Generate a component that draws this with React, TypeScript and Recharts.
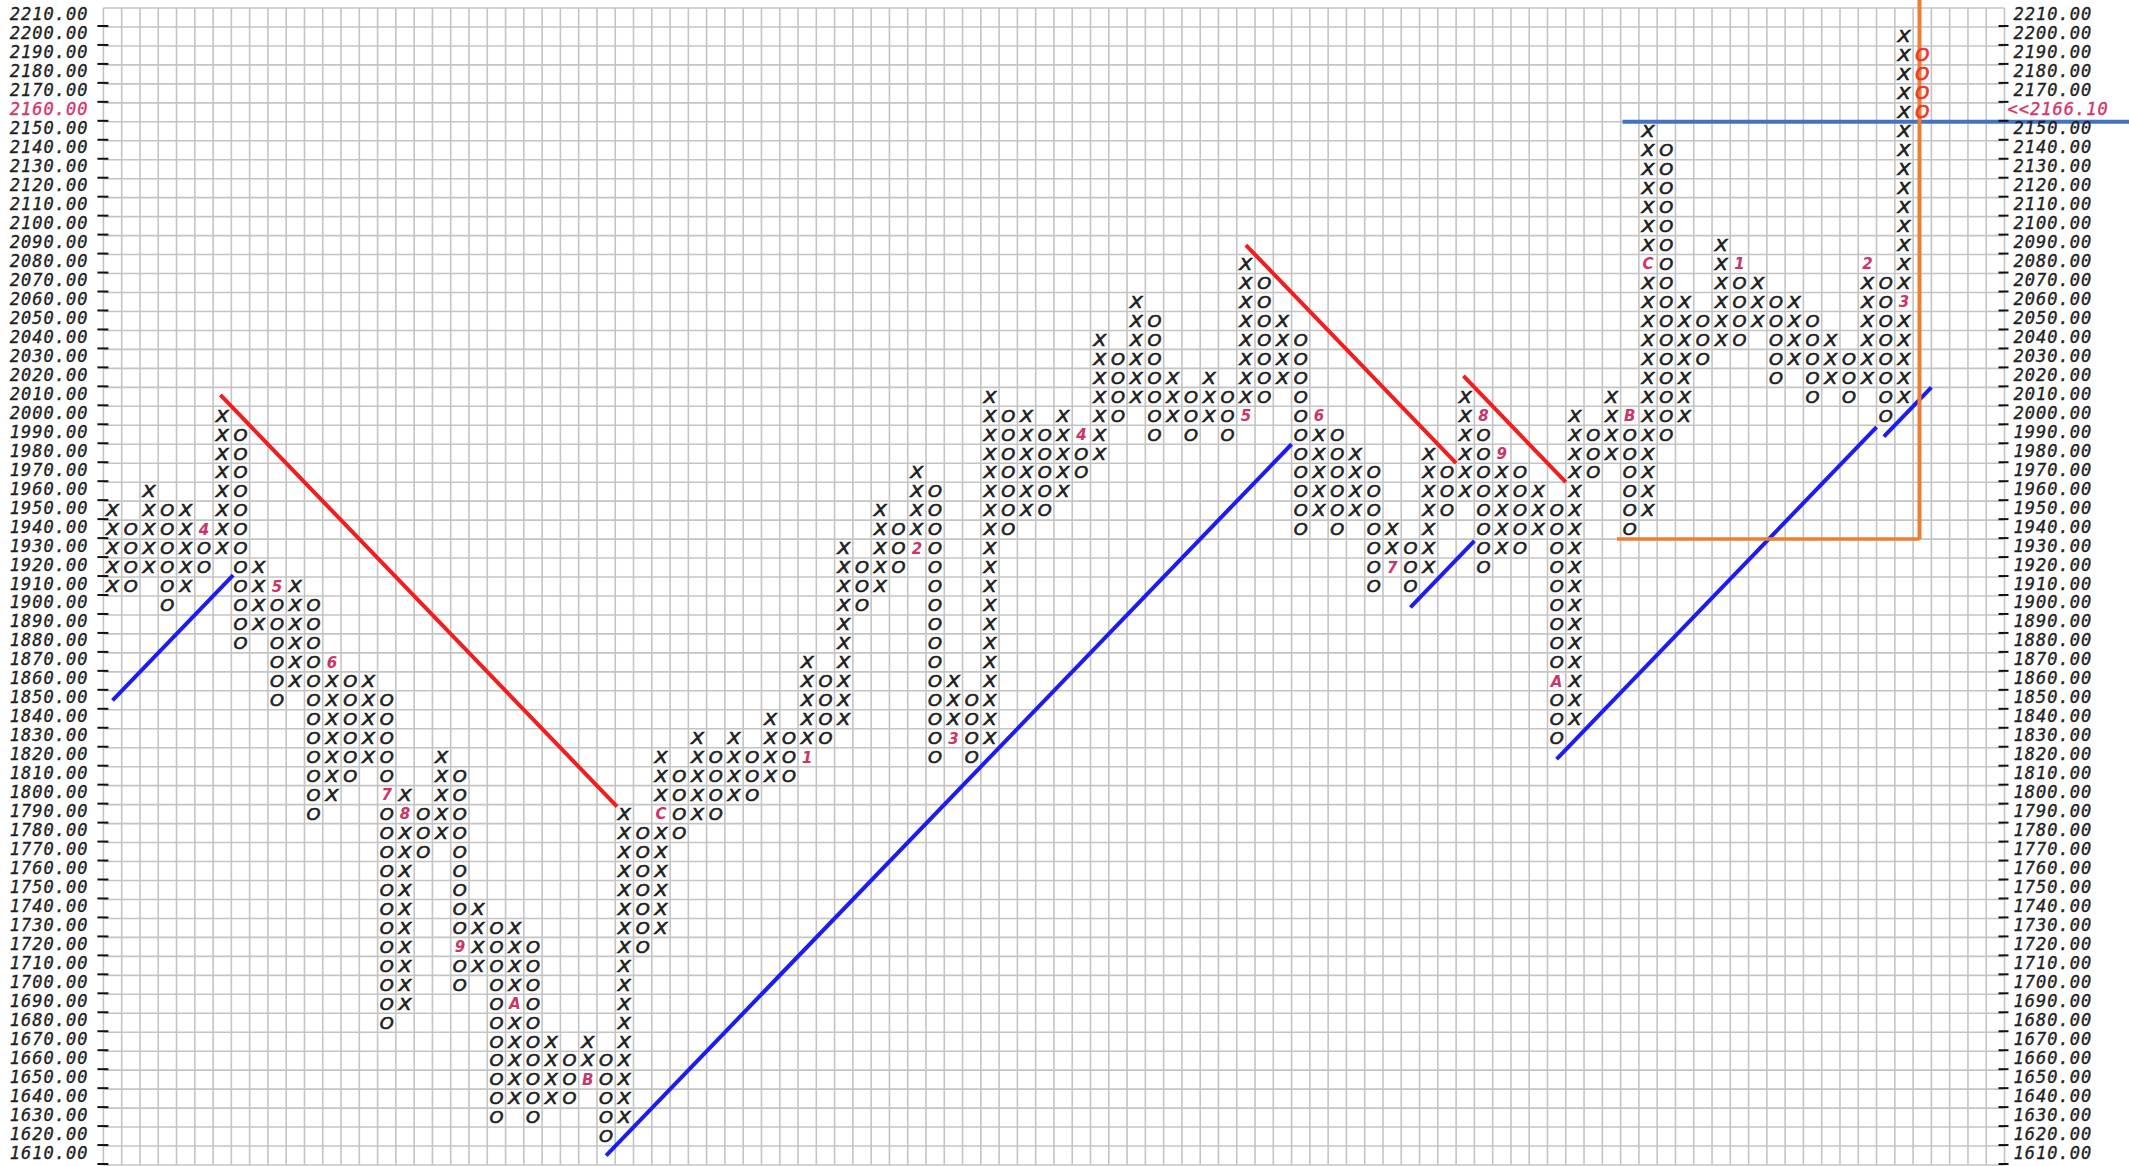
import React from "react";
import { ScatterChart, Scatter, XAxis, YAxis, CartesianGrid, ReferenceLine } from "recharts";

// point & figure columns, box size 10: [kind, lowest box, highest box]
const columns: [string, number, number][] = [
  ["X", 1910, 1950], ["O", 1910, 1940], ["X", 1920, 1960], ["O", 1900, 1950], ["X", 1910, 1950],
  ["O", 1920, 1940], ["X", 1930, 2000], ["O", 1880, 1990], ["X", 1890, 1920], ["O", 1850, 1910],
  ["X", 1860, 1910], ["O", 1790, 1900], ["X", 1800, 1870], ["O", 1810, 1860], ["X", 1820, 1860],
  ["O", 1680, 1850], ["X", 1690, 1800], ["O", 1770, 1790], ["X", 1780, 1820], ["O", 1700, 1810],
  ["X", 1710, 1740], ["O", 1630, 1730], ["X", 1640, 1730], ["O", 1630, 1720], ["X", 1640, 1670],
  ["O", 1640, 1660], ["X", 1650, 1670], ["O", 1620, 1660], ["X", 1630, 1790], ["O", 1720, 1780],
  ["X", 1730, 1820], ["O", 1780, 1810], ["X", 1790, 1830], ["O", 1790, 1820], ["X", 1800, 1830],
  ["O", 1800, 1820], ["X", 1810, 1840], ["O", 1810, 1830], ["X", 1820, 1870], ["O", 1830, 1860],
  ["X", 1840, 1930], ["O", 1900, 1920], ["X", 1910, 1950], ["O", 1920, 1940], ["X", 1930, 1970],
  ["O", 1820, 1960], ["X", 1830, 1860], ["O", 1820, 1850], ["X", 1830, 2010], ["O", 1940, 2000],
  ["X", 1950, 2000], ["O", 1950, 1990], ["X", 1960, 2000], ["O", 1970, 1990], ["X", 1980, 2040],
  ["O", 2000, 2030], ["X", 2010, 2060], ["O", 1990, 2050], ["X", 2000, 2020], ["O", 1990, 2010],
  ["X", 2000, 2020], ["O", 1990, 2010], ["X", 2000, 2080], ["O", 2010, 2070], ["X", 2020, 2050],
  ["O", 1940, 2040], ["X", 1950, 2000], ["O", 1940, 1990], ["X", 1950, 1980], ["O", 1910, 1970],
  ["X", 1920, 1940], ["O", 1910, 1930], ["X", 1920, 1980], ["O", 1950, 1970], ["X", 1960, 2010],
  ["O", 1920, 2000], ["X", 1930, 1980], ["O", 1930, 1970], ["X", 1940, 1960], ["O", 1830, 1950],
  ["X", 1840, 2000], ["O", 1970, 1990], ["X", 1980, 2010], ["O", 1940, 2000], ["X", 1950, 2150],
  ["O", 1990, 2140], ["X", 2000, 2060], ["O", 2030, 2050], ["X", 2040, 2090], ["O", 2040, 2080],
  ["X", 2050, 2070], ["O", 2020, 2060], ["X", 2030, 2060], ["O", 2010, 2050], ["X", 2020, 2040],
  ["O", 2010, 2030], ["X", 2020, 2080], ["O", 2000, 2070], ["X", 2010, 2200],
];

// month codes written in place of a box: [column, price, code]
const monthMarks: [number, number, string][] = [
  [5, 1940, "4"], [9, 1910, "5"], [12, 1870, "6"], [15, 1800, "7"], [16, 1790, "8"],
  [19, 1720, "9"], [22, 1690, "A"], [26, 1650, "B"], [30, 1790, "C"], [38, 1820, "1"],
  [44, 1930, "2"], [46, 1830, "3"], [53, 1990, "4"], [62, 2000, "5"], [66, 2000, "6"],
  [70, 1920, "7"], [75, 2000, "8"], [76, 1980, "9"], [79, 1860, "A"], [83, 2000, "B"],
  [84, 2080, "C"], [89, 2080, "1"], [96, 2080, "2"], [98, 2060, "3"],
];

// reversal column still forming (red)
const pendingColumn = 99;
const pendingBoxes = [2190, 2180, 2170, 2160];

const priceTicks = [
  2210, 2200, 2190, 2180, 2170, 2160, 2150, 2140, 2130, 2120, 2110, 2100, 2090, 2080, 2070, 2060,
  2050, 2040, 2030, 2020, 2010, 2000, 1990, 1980, 1970, 1960, 1950, 1940, 1930, 1920, 1910, 1900,
  1890, 1880, 1870, 1860, 1850, 1840, 1830, 1820, 1810, 1800, 1790, 1780, 1770, 1760, 1750, 1740,
  1730, 1720, 1710, 1700, 1690, 1680, 1670, 1660, 1650, 1640, 1630, 1620, 1610,
];
const highlightTick = 2160;
const lastPrice = "2166.10";

// 45 degree trend lines: [[col, price], [col, price]]
const supportLines: [number, number][][] = [
  [[0, 1850], [6.6, 1916]],
  [[27, 1610], [64.5, 1985]],
  [[71, 1899], [74.5, 1934]],
  [[79, 1819], [96.5, 1994]],
  [[96.9, 1989], [99.5, 2015]],
];
const resistanceLines: [number, number][][] = [
  [[5.9, 2011], [27.6, 1794]],
  [[62, 2090], [73.5, 1975]],
  [[73.9, 2021], [79.5, 1965]],
];
const breakout = { from: 82.6, to: 112, price: 2155 };
const target = { from: 82.3, col: 98.85, price: 1935, top: 2221 };

const colCount = 104;
const boxSize = 10;
const priceMin = 1605;
const priceMax = 2215;

const markKey = new Map(monthMarks.map(([c, p, l]) => [c + ":" + p, l]));
const xBoxes: { col: number; price: number }[] = [];
const oBoxes: { col: number; price: number }[] = [];
columns.forEach(([kind, low, high], col) => {
  for (let p = low; p <= high; p += boxSize) {
    if (markKey.has(col + ":" + p)) continue;
    (kind === "X" ? xBoxes : oBoxes).push({ col, price: p });
  }
});
const markPoints = monthMarks.map(([col, price, label]) => ({ col, price, label }));
const pendingPoints = pendingBoxes.map((price) => ({ col: pendingColumn, price }));

const colEdges: number[] = [];
for (let c = 0; c <= colCount; c++) colEdges.push(c - 0.5);
const rowEdges: number[] = [];
for (let p = priceMin; p <= priceMax; p += boxSize) rowEdges.push(p);

// axis scale may be a plain d3 function or a wrapper with .map()
function scaleOf(axis: any, v: number, lo: number, hi: number, start: number, end: number) {
  const s = axis && axis.scale;
  if (typeof s === "function") return s(v);
  if (s && typeof s.map === "function") return s.map(v);
  return start + ((v - lo) / (hi - lo)) * (end - start);
}

const labelFont = {
  fontFamily: "DejaVu Sans Mono",
  fontStyle: "italic",
  fontSize: 17,
  letterSpacing: 1,
  strokeWidth: 0.35,
};

function LeftTick(props: any) {
  const { x, y, payload } = props;
  const v = payload.value;
  const c = v === highlightTick ? "#d6336c" : "#1f1f1f";
  return (
    <g>
      <text x={x - 15} y={y + 3} textAnchor="end" {...labelFont} fill={c} stroke={c}>
        {v.toFixed(2)}
      </text>
      <line x1={x - 6} x2={x + 5} y1={y + 8.5} y2={y + 8.5} stroke="#111" strokeWidth={2} />
    </g>
  );
}

function RightTick(props: any) {
  const { x, y, payload } = props;
  const v = payload.value;
  return (
    <g>
      {v === highlightTick ? (
        <text x={x + 3} y={y + 3} {...labelFont} fill="#d6336c" stroke="#d6336c">
          {"<<" + lastPrice}
        </text>
      ) : (
        <text x={x + 9} y={y + 3} {...labelFont} fill="#1f1f1f" stroke="#1f1f1f">
          {v.toFixed(2)}
        </text>
      )}
      <line x1={x - 6} x2={x + 4} y1={y + 8.5} y2={y + 8.5} stroke="#111" strokeWidth={2} />
    </g>
  );
}

const glyphFont = { fontFamily: "DejaVu Sans", fontStyle: "italic", fontSize: 16 };

const XMark = (p: any) => (
  <text x={p.cx} y={p.cy + 5.8} textAnchor="middle" {...glyphFont} textLength={13} lengthAdjust="spacingAndGlyphs"
    fill="#1e1e1e" stroke="#1e1e1e" strokeWidth={0.6}>X</text>
);
const OMark = (p: any) => (
  <text x={p.cx} y={p.cy + 5.8} textAnchor="middle" {...glyphFont} textLength={14} lengthAdjust="spacingAndGlyphs"
    fill="#1e1e1e" stroke="#1e1e1e" strokeWidth={0.6}>O</text>
);
const PendingMark = (p: any) => (
  <text x={p.cx} y={p.cy + 6} textAnchor="middle" {...glyphFont} fontSize={17} textLength={14} lengthAdjust="spacingAndGlyphs"
    fill="#f2332b" stroke="#f2332b" strokeWidth={0.7}>O</text>
);
const MonthMark = (p: any) => (
  <text x={p.cx} y={p.cy + 5.3} textAnchor="middle" fontFamily="DejaVu Sans" fontStyle="italic" fontWeight="bold"
    fontSize={15} fill="#cc3366">{p.payload.label}</text>
);

export default function App() {
  return (
    <div style={{ position: "absolute", left: 0, top: 0, width: 2129, height: 1166, background: "#fff" }}>
      <ScatterChart width={2129} height={1166} margin={{ top: 8, right: 0, bottom: 1, left: 0 }}>
        <CartesianGrid
          stroke="#c4c4c4"
          strokeWidth={1.6}
          verticalCoordinatesGenerator={({ xAxis, offset }: any) =>
            colEdges.map((v) =>
              scaleOf(xAxis, v, -0.5, colCount - 0.5, offset.left, offset.left + offset.width)
            )
          }
          horizontalCoordinatesGenerator={({ yAxis, offset }: any) =>
            rowEdges.map((v) =>
              scaleOf(yAxis, v, priceMin, priceMax, offset.top + offset.height, offset.top)
            )
          }
        />
        <XAxis type="number" dataKey="col" domain={[-0.5, colCount - 0.5]} allowDataOverflow hide />
        <YAxis
          type="number"
          dataKey="price"
          domain={[priceMin, priceMax]}
          allowDataOverflow
          ticks={priceTicks}
          interval={0}
          width={103.4}
          axisLine={false}
          tickLine={false}
          tickSize={0}
          tickMargin={0}
          tick={(p: any) => <LeftTick {...p} />}
        />
        <YAxis
          yAxisId="right"
          orientation="right"
          type="number"
          domain={[priceMin, priceMax]}
          allowDataOverflow
          ticks={priceTicks}
          interval={0}
          width={124.5}
          axisLine={false}
          tickLine={false}
          tickSize={0}
          tickMargin={0}
          tick={(p: any) => <RightTick {...p} />}
        />
        <Scatter data={xBoxes} shape={XMark} isAnimationActive={false} />
        <Scatter data={oBoxes} shape={OMark} isAnimationActive={false} />
        <Scatter data={markPoints} shape={MonthMark} isAnimationActive={false} />
        <Scatter data={pendingPoints} shape={PendingMark} isAnimationActive={false} />
        {supportLines.map((seg, i) => (
          <ReferenceLine key={"s" + i} segment={seg.map(([x, y]) => ({ x, y }))} stroke="#1c1cf0" strokeWidth={4} ifOverflow="visible" />
        ))}
        {resistanceLines.map((seg, i) => (
          <ReferenceLine key={"r" + i} segment={seg.map(([x, y]) => ({ x, y }))} stroke="#f21d1d" strokeWidth={4} ifOverflow="visible" />
        ))}
        <ReferenceLine
          segment={[{ x: breakout.from, y: breakout.price }, { x: breakout.to, y: breakout.price }]}
          stroke="#4472c4" strokeWidth={4} ifOverflow="visible"
        />
        <ReferenceLine
          segment={[{ x: target.from, y: target.price }, { x: target.col, y: target.price }]}
          stroke="#ed7d31" strokeWidth={3.5} ifOverflow="visible"
        />
        <ReferenceLine
          segment={[{ x: target.col, y: target.price }, { x: target.col, y: target.top }]}
          stroke="#ed7d31" strokeWidth={4} ifOverflow="visible"
        />
      </ScatterChart>
    </div>
  );
}
